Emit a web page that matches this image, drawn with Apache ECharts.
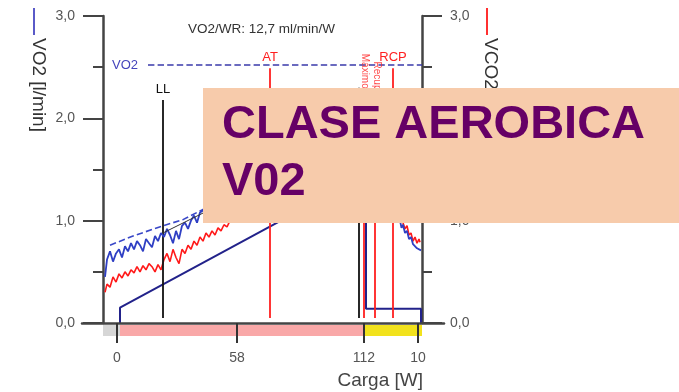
<!DOCTYPE html>
<html><head><meta charset="utf-8">
<script src="https://cdn.jsdelivr.net/npm/echarts@6/dist/echarts.min.js"></script>
<style>html,body{margin:0;padding:0;background:#fff}#c{width:679px;height:392px}</style>
</head><body><div id="c"></div>
<script>
// ---- data (time in seconds on the x axis, l/min on the y axes) ----
const xMin = 0, xMax = 638;
const tickValues = [28, 268, 522, 630];
const tickLabels = ['0', '58', '112', '10'];

const vo2Time = [4,8,14,20,26,32,38,44,50,56,62,68,74,80,86,92,98,104,110,116,122,128,134,140,146,152,158,164,170,176,182,188,194,200,
  210,230,250,270,290,310,330,350,370,390,410,430,450,470,490,510,520,530,545,560,575,588,
  594,597,600,604,608,612,616,620,624,628,632,636];
const vo2 = [0.45,0.62,0.70,0.60,0.68,0.72,0.64,0.75,0.70,0.78,0.72,0.80,0.76,0.70,0.82,0.78,0.74,0.85,0.80,0.88,0.84,0.92,0.86,0.78,0.90,0.82,0.95,0.98,0.92,1.00,1.05,0.98,1.08,1.10,
  1.12,1.18,1.25,1.30,1.38,1.42,1.50,1.55,1.62,1.68,1.75,1.82,1.88,1.95,2.02,2.08,2.12,2.05,1.90,1.75,1.45,1.15,
  1.00,0.93,0.96,0.88,0.90,0.82,0.84,0.77,0.78,0.73,0.72,0.71];

const vo2TrendTime = [14,60,120,160,200,300,450,520];
const vo2Trend = [0.76,0.85,0.95,1.01,1.11,1.35,1.85,2.15];

const vco2Time = [4,8,14,20,26,32,38,44,50,56,62,68,74,80,86,92,98,104,110,116,122,128,134,140,146,152,158,164,170,176,182,188,194,200,206,212,218,224,230,236,242,248,256,
  280,310,340,370,400,430,460,490,515,530,550,570,590,598,
  600,604,608,612,616,620,624,628,632,634];
const vco2 = [0.30,0.38,0.35,0.45,0.40,0.48,0.44,0.50,0.46,0.52,0.49,0.55,0.50,0.56,0.52,0.58,0.55,0.50,0.57,0.52,0.62,0.68,0.60,0.72,0.64,0.58,0.72,0.68,0.76,0.72,0.80,0.76,0.84,0.80,0.88,0.84,0.90,0.86,0.93,0.90,0.96,0.94,1.02,
  1.10,1.22,1.35,1.50,1.62,1.78,1.92,2.05,2.18,2.10,1.85,1.55,1.25,1.05,
  0.98,0.92,0.95,0.86,0.88,0.80,0.84,0.78,0.82,0.79];

const loadTime = [34,34,526,526,636,636];
const loadScaled = [0,0.15,1.45,0.14,0.14,0];

const fitTime = [120,334];
const fitVo2 = [0.88,1.40];

const vo2Peak = 2.52, vo2PeakFrom = 90;

const markerTime  = [120, 334, 512, 522, 544, 580];
const markerTop   = [2.18, 2.49, 2.30, 2.30, 2.30, 2.49];
const markerLabel = ['LL', 'AT', '', '', '', 'RCP'];
const markerColor = ['#111111', '#ff2020', '#111111', '#ff2020', '#ff2020', '#ff2020'];

const tagTime = [524, 547];
const tagValue = [2.46, 2.40];
const tagText = ['Máximo', 'Recup.'];

const phaseStart = [0, 34, 522];
const phaseEnd = [34, 522, 638];
const phaseColor = ['#d6d6d6', '#f9a8a8', '#f2e21c'];

// ---- chart ----
const FF = '"Liberation Sans", Arial, sans-serif';
const zip = (a, b) => a.map((v, i) => [v, b[i]]);
const fmtY = v => v.toFixed(1).replace('.', ',');

const yAxisBase = (pos) => ({
  gridIndex: 0, type: 'value', min: 0, max: 3, interval: 1, position: pos,
  axisLine: { show: true, onZero: false, lineStyle: { color: '#444', width: 2.5 } },
  axisTick: { show: true, length: 20, lineStyle: { color: '#444', width: 2 } },
  minorTick: { show: true, splitNumber: 2, length: 10, lineStyle: { color: '#444', width: 2 } },
  axisLabel: { formatter: fmtY, color: '#555', fontSize: 14, margin: 28, fontFamily: FF },
  splitLine: { show: false }
});

const chart = echarts.init(document.getElementById('c'));
chart.setOption({
  animation: false,
  backgroundColor: '#fff',
  title: [
    { text: 'VO2/WR: 12,7 ml/min/W', left: 183, top: 17,
      textStyle: { fontSize: 13.5, fontWeight: 'normal', color: '#333', fontFamily: FF } },
    { text: 'Carga [W]', right: 251, top: 366,
      textStyle: { fontSize: 19, fontWeight: 'normal', color: '#444', fontFamily: FF } }
  ],
  grid: [
    { left: 103, right: 257, top: 16, bottom: 69 },
    { left: 82, right: 235, top: 16, bottom: 69 },
    { left: 103, right: 257, top: 325, height: 11 }
  ],
  xAxis: [
    { gridIndex: 0, type: 'value', min: xMin, max: xMax, z: 10,
      axisLine: { show: false, onZero: false },
      axisTick: { show: true, customValues: tickValues, length: 20, lineStyle: { color: '#333', width: 2 } },
      axisLabel: { show: true, customValues: tickValues, formatter: v => tickLabels[tickValues.indexOf(v)],
        color: '#555', fontSize: 14, margin: 28, fontFamily: FF },
      splitLine: { show: false } },
    { gridIndex: 1, type: 'value', min: 0, max: 1, z: 9,
      axisLine: { show: true, onZero: false, lineStyle: { color: '#444', width: 2.5 } },
      axisTick: { show: false }, axisLabel: { show: false }, splitLine: { show: false } },
    { gridIndex: 2, type: 'value', min: xMin, max: xMax, show: false }
  ],
  yAxis: [
    yAxisBase('left'),
    yAxisBase('right'),
    { gridIndex: 1, type: 'value', min: 0, max: 1, show: false },
    { gridIndex: 2, type: 'value', min: 0, max: 1, show: false }
  ],
  series: [
    { type: 'line', name: 'phases', xAxisIndex: 2, yAxisIndex: 3, data: [[xMin, 0]], showSymbol: false,
      lineStyle: { opacity: 0 }, z: 1, silent: true,
      markArea: { silent: true, data: phaseStart.map((s, i) => [
        { xAxis: s, itemStyle: { color: phaseColor[i] } }, { xAxis: phaseEnd[i] }]) } },
    { type: 'line', name: 'Carga', xAxisIndex: 0, yAxisIndex: 0, data: zip(loadTime, loadScaled),
      showSymbol: false, lineStyle: { color: '#22228a', width: 2 }, z: 3 },
    { type: 'line', name: 'VO2 tendencia', data: zip(vo2TrendTime, vo2Trend), showSymbol: false,
      lineStyle: { color: '#3a48c8', width: 1.6, type: 'dashed' }, z: 3 },
    { type: 'line', name: 'VCO2', data: zip(vco2Time, vco2), showSymbol: false,
      lineStyle: { color: '#ff1a1a', width: 1.6 }, z: 4 },
    { type: 'line', name: 'VO2', data: zip(vo2Time, vo2), showSymbol: false,
      lineStyle: { color: '#2f3fc4', width: 1.8 }, z: 5 },
    { type: 'line', name: 'ajuste', data: zip(fitTime, fitVo2), showSymbol: false,
      lineStyle: { color: '#333', width: 1 }, z: 6 },
    { type: 'line', name: 'marcas', data: [], z: 6,
      markLine: { silent: true, symbol: 'none', animation: false,
        data: [
          [ { coord: [vo2PeakFrom, vo2Peak], label: { show: true, position: 'start', formatter: 'VO2', color: '#4444bb', fontSize: 13, distance: 10, fontFamily: FF },
              lineStyle: { color: '#3a3aaa', width: 1.6, type: 'dashed' } },
            { coord: [xMax, vo2Peak] } ]
        ].concat(markerTime.map((t, i) => [
          { coord: [t, 0.05], label: { show: markerLabel[i] !== '', position: 'end', formatter: markerLabel[i],
              color: markerColor[i], fontSize: 13, distance: 4, fontFamily: FF },
            lineStyle: { color: markerColor[i], width: 1.8, type: 'solid' } },
          { coord: [t, markerTop[i]] } ]))
      } },
    { type: 'scatter', name: 'etiquetas', data: tagTime.map((t, i) => [t, tagValue[i], tagText[i]]),
      symbolSize: 2, itemStyle: { color: 'rgba(0,0,0,0)' }, z: 7, silent: true,
      label: { show: true, position: 'inside', rotate: -90, formatter: p => p.data[2],
        color: '#ff2020', fontSize: 10, fontFamily: FF } }
  ],
  graphic: [
    { type: 'line', shape: { x1: 34, y1: 8, x2: 34, y2: 35 }, style: { stroke: '#5a5ac8', lineWidth: 2 } },
    { type: 'text', x: 38, y: 38, rotation: -Math.PI / 2,
      style: { text: 'VO2 [l/min]', font: '19px ' + FF, fill: '#333', textAlign: 'left', textVerticalAlign: 'middle', align: 'left', verticalAlign: 'middle' } },
    { type: 'line', shape: { x1: 487, y1: 8, x2: 487, y2: 35 }, style: { stroke: '#ff3030', lineWidth: 2 } },
    { type: 'text', x: 490, y: 38, rotation: -Math.PI / 2,
      style: { text: 'VCO2 [l/min]', font: '19px ' + FF, fill: '#333', textAlign: 'left', textVerticalAlign: 'middle', align: 'left', verticalAlign: 'middle' } },
    { type: 'rect', z: 100, shape: { x: 203, y: 88, width: 476, height: 135 }, style: { fill: '#f7cbab' } },
    { type: 'text', z: 101, x: 222, y: 125,
      style: { text: 'CLASE AEROBICA', font: 'bold 47px ' + FF, fill: '#660066', textAlign: 'left', textVerticalAlign: 'middle', align: 'left', verticalAlign: 'middle' } },
    { type: 'text', z: 101, x: 222, y: 182,
      style: { text: 'V02', font: 'bold 47px ' + FF, fill: '#660066', textAlign: 'left', textVerticalAlign: 'middle', align: 'left', verticalAlign: 'middle' } }
  ]
});
</script></body></html>
